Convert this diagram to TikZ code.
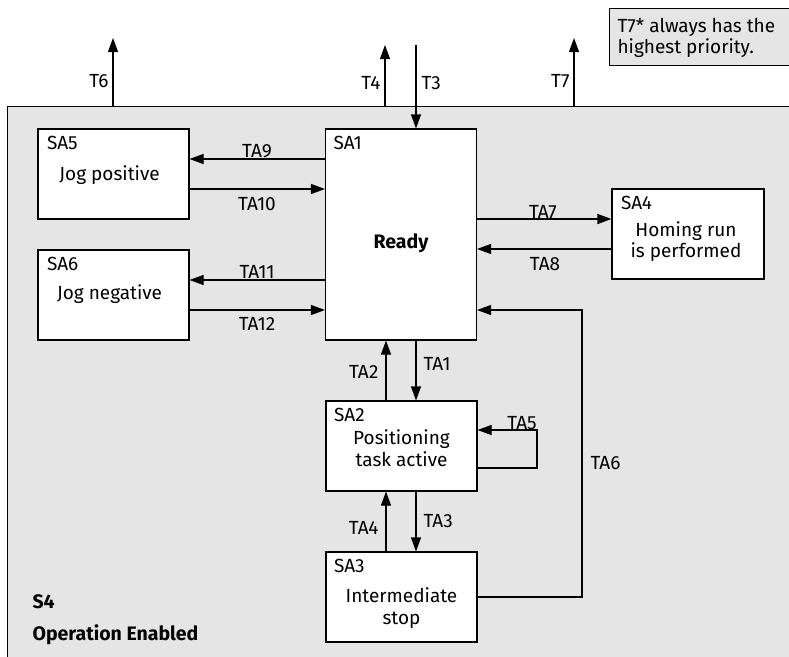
\documentclass[tikz,border=0pt]{standalone}
\usepackage{fontspec}
\setmainfont{Fira Sans}
\usetikzlibrary{arrows.meta}
\definecolor{bg}{HTML}{E5E5E5}
\begin{document}
\begin{tikzpicture}[x=1pt,y=-1pt,
  font=\fontsize{19}{21}\selectfont,
  line width=1.1pt,
  arr/.style={-{Triangle[length=14pt,width=10pt]}},
  state/.style={draw, fill=white, minimum width=151pt, minimum height=90pt, inner sep=0pt},
  lbl/.style={inner sep=0pt, anchor=base},
  tag/.style={inner sep=0pt, anchor=base west},
  boldtext/.style={font=\fontsize{19.5}{21}\selectfont\bfseries}]
\useasboundingbox (0,0) rectangle (789,656);
\clip (0,0) rectangle (789,656);

% outer state S4
\node[draw, fill=bg, anchor=north west, minimum width=850pt, minimum height=600pt] (s4) at (7,106) {};
\node[tag, boldtext] (s4a) at (32,608) {S4};
\node[tag, boldtext] (s4b) at (32,640) {Operation Enabled};

% note
\node[draw, fill=bg, anchor=north west, minimum width=260pt, minimum height=57pt] (note) at (609,8) {};
\node[tag] (note1) at (617,32) {T7* always has the};
\node[tag] (note2) at (617,53) {highest priority.};

% states
\node[state] (sa5) at (113.5,174) {};
\node[state] (sa6) at (113.5,295) {};
\node[state, minimum height=211pt] (sa1) at (401,234.5) {};
\node[state, minimum width=152pt] (sa4) at (688,234) {};
\node[state] (sa2) at (401.5,446) {};
\node[state] (sa3) at (401.5,597) {};

% state texts
\node[tag] at ([shift={(9,21)}]sa5.north west) {SA5};
\node[lbl] at ([shift={(-4,52)}]sa5.north) {Jog positive};
\node[tag] at ([shift={(9,21)}]sa6.north west) {SA6};
\node[lbl] at ([shift={(-4,50)}]sa6.north) {Jog negative};
\node[tag] at ([shift={(8,21)}]sa1.north west) {SA1};
\node[lbl, boldtext] at ([shift={(0,13.5)}]sa1.center) {Ready};
\node[tag] at ([shift={(9,21)}]sa4.north west) {SA4};
\node[lbl] at ([shift={(-2,48)}]sa4.north) {Homing run};
\node[lbl] at ([shift={(-2,69)}]sa4.north) {is performed};
\node[tag] at ([shift={(8,21)}]sa2.north west) {SA2};
\node[lbl] at ([shift={(0,44)}]sa2.north) {Positioning};
\node[lbl] at ([shift={(0,66)}]sa2.north) {task active};
\node[tag] at ([shift={(8,21)}]sa3.north west) {SA3};
\node[lbl] at ([shift={(0,51)}]sa3.north) {Intermediate};
\node[lbl] at ([shift={(0,73)}]sa3.north) {stop};

% top transitions
\coordinate (t6) at (113,38);
\coordinate (t4) at (385,45);
\coordinate (t3) at (416,45);
\coordinate (t7) at (574,38);
\draw[arr] (s4.north -| t6) -- (t6);
\draw[arr] (s4.north -| t4) -- (t4);
\draw[arr] (t3) -- (t3 |- sa1.north);
\draw[arr] (s4.north -| t7) -- (t7);
\node[lbl, anchor=base east] at (109,87) {T6};
\node[lbl, anchor=base east] at (381,89) {T4};
\node[lbl, anchor=base west] at (421,89) {T3};
\node[lbl, anchor=base east] at (570,87) {T7};

% SA1 <-> SA5, SA6
\draw[arr] (sa1.west |- 0,159) -- (sa5.east |- 0,159);
\draw[arr] (sa5.east |- 0,189) -- (sa1.west |- 0,189);
\draw[arr] (sa1.west |- 0,280) -- (sa6.east |- 0,280);
\draw[arr] (sa6.east |- 0,310) -- (sa1.west |- 0,310);
\node[lbl] at (257,157) {TA9};
\node[lbl] at (257,210) {TA10};
\node[lbl] at (257,278) {TA11};
\node[lbl] at (257,330) {TA12};

% SA1 <-> SA4
\draw[arr] (sa1.east |- 0,219) -- (sa4.west |- 0,219);
\draw[arr] (sa4.west |- 0,249) -- (sa1.east |- 0,249);
\node[lbl] at (543,218) {TA7};
\node[lbl] at (545,270) {TA8};

% SA1 <-> SA2
\draw[arr] (sa1.south -| 416,0) -- (sa2.north -| 416,0);
\draw[arr] (sa2.north -| 386,0) -- (sa1.south -| 386,0);
\node[lbl, anchor=base west] at (423,370) {TA1};
\node[lbl, anchor=base east] at (379,378) {TA2};

% SA2 <-> SA3
\draw[arr] (sa2.south -| 416,0) -- (sa3.north -| 416,0);
\draw[arr] (sa3.north -| 386,0) -- (sa2.south -| 386,0);
\node[lbl, anchor=base west] at (423,527) {TA3};
\node[lbl, anchor=base east] at (379,534) {TA4};

% TA5 self loop
\coordinate (c5) at (537,430);
\draw[arr] (sa2.east |- 0,468) -- (c5 |- 0,468) -- (c5) -- (sa2.east |- c5);
\node[lbl] at (522,429) {TA5};

% TA6 SA3 -> SA1
\coordinate (c6) at (582,310);
\draw[arr] (sa3.east) -- (sa3.east -| c6) -- (c6) -- (sa1.east |- c6);
\node[lbl, anchor=base west] at (590,469) {TA6};
\end{tikzpicture}
\end{document}
